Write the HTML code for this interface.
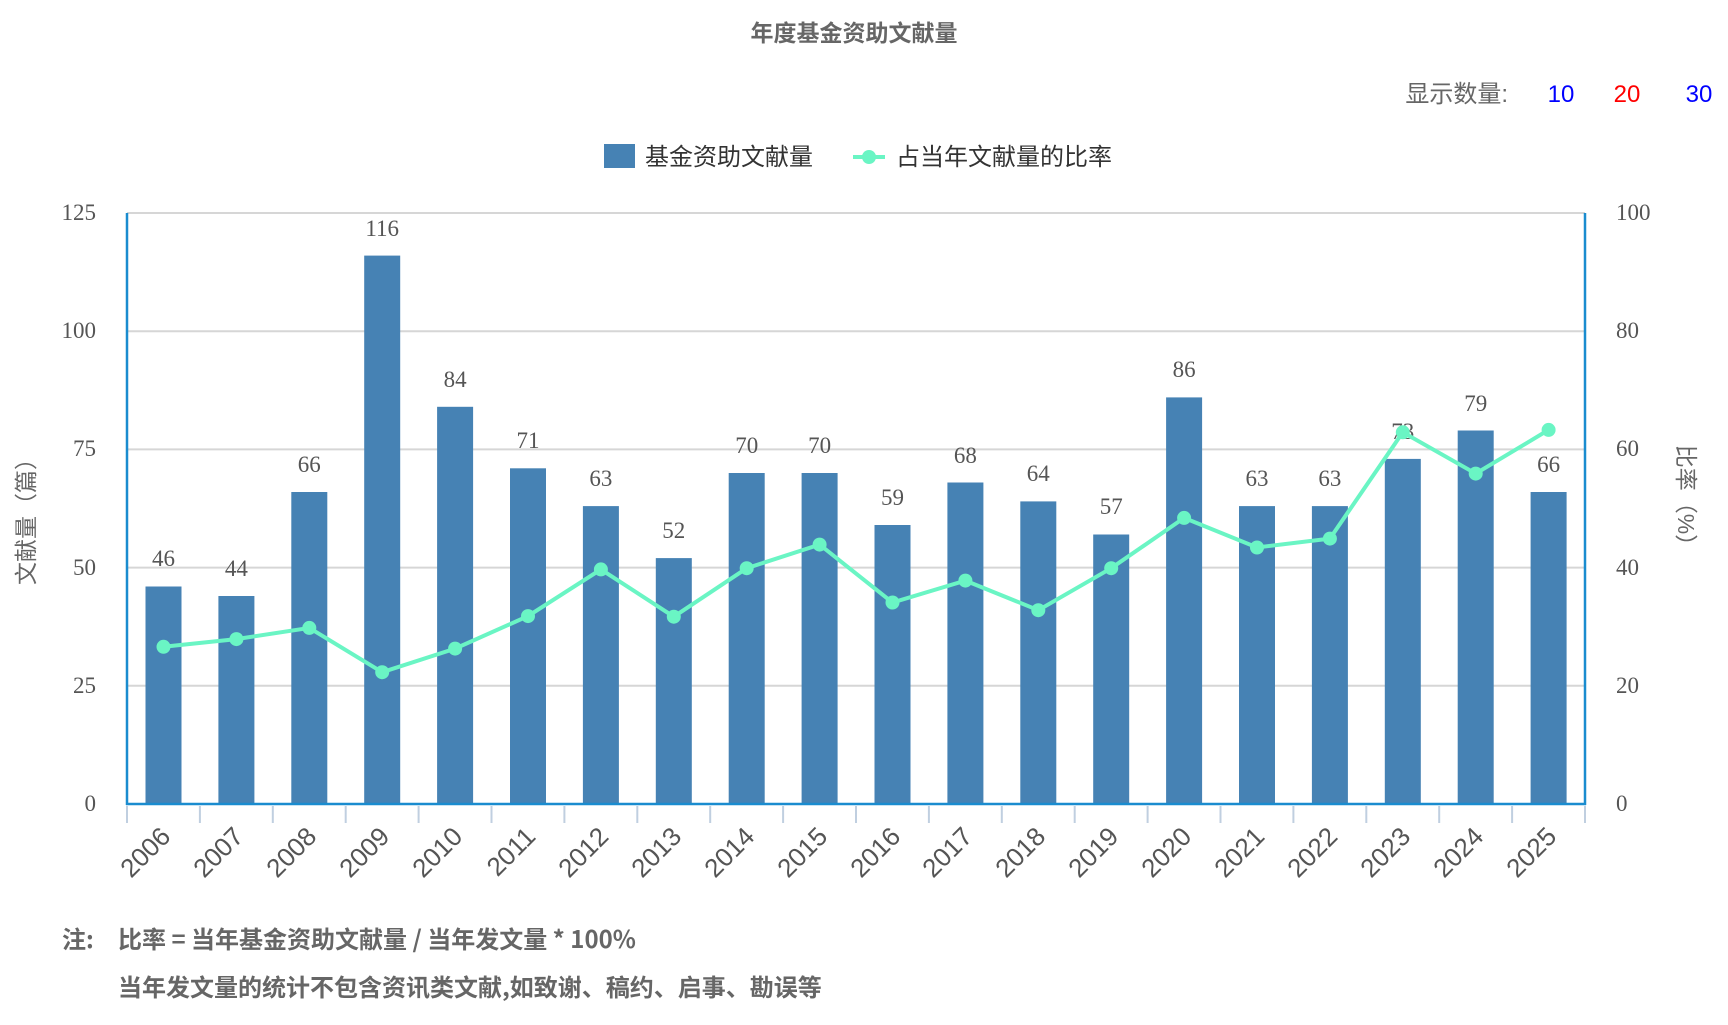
<!DOCTYPE html>
<html><head><meta charset="utf-8"><style>
body{margin:0;background:#fff;width:1728px;height:1020px;overflow:hidden}
text{font-family:"Liberation Sans","Noto Sans CJK SC",sans-serif}
.s{font-family:"Liberation Serif","Noto Sans CJK SC",serif;fill:#555;font-size:23px}
.c{font-family:"Noto Sans CJK SC",sans-serif}
</style></head><body>
<svg width="1728" height="1020" xmlns="http://www.w3.org/2000/svg">
<text class="c" x="854" y="41" text-anchor="middle" font-size="23" font-weight="bold" fill="#666">年度基金资助文献量</text>
<text x="1508" y="102" text-anchor="end" font-size="24" fill="#666">显示数量:</text>
<text x="1561" y="102" text-anchor="middle" font-size="24" fill="#00f">10</text>
<text x="1627" y="102" text-anchor="middle" font-size="24" fill="#f00">20</text>
<text x="1699" y="102" text-anchor="middle" font-size="24" fill="#00f">30</text>
<rect x="604" y="144" width="31" height="24" fill="#4682b4"/>
<text x="645" y="165" font-size="24" fill="#333">基金资助文献量</text>
<line x1="853" y1="157" x2="885" y2="157" stroke="#6af5c4" stroke-width="4"/>
<circle cx="869" cy="157" r="7" fill="#6af5c4"/>
<text x="896" y="165" font-size="24" fill="#333">占当年文献量的比率</text>
<g stroke="#d6d6d6" stroke-width="2">
<line x1="127" y1="213" x2="1585" y2="213"/><line x1="127" y1="331.2" x2="1585" y2="331.2"/><line x1="127" y1="449.4" x2="1585" y2="449.4"/><line x1="127" y1="567.6" x2="1585" y2="567.6"/><line x1="127" y1="685.8" x2="1585" y2="685.8"/>
</g>
<g text-anchor="end">
<text class="s" x="96" y="220">125</text><text class="s" x="96" y="338">100</text><text class="s" x="96" y="456">75</text><text class="s" x="96" y="575">50</text><text class="s" x="96" y="693">25</text><text class="s" x="96" y="811">0</text>
</g>
<text class="s" x="1616" y="220">100</text><text class="s" x="1616" y="338">80</text><text class="s" x="1616" y="456">60</text><text class="s" x="1616" y="575">40</text><text class="s" x="1616" y="693">20</text><text class="s" x="1616" y="811">0</text>
<text transform="translate(34,516) rotate(-90)" text-anchor="middle" font-size="23" fill="#666">文献量（篇）</text>
<text transform="translate(1678,501) rotate(90)" text-anchor="middle" font-size="23" fill="#666">比率（%）</text>
<g fill="#4682b4">
<rect x="145.5" y="586.5" width="36" height="217.5"/><rect x="218.4" y="596" width="36" height="208"/><rect x="291.3" y="492" width="36" height="312"/><rect x="364.2" y="255.6" width="36" height="548.4"/><rect x="437.1" y="406.8" width="36" height="397.2"/><rect x="510" y="468.3" width="36" height="335.7"/><rect x="582.9" y="506.1" width="36" height="297.9"/><rect x="655.8" y="558.1" width="36" height="245.9"/><rect x="728.7" y="473" width="36" height="331"/><rect x="801.6" y="473" width="36" height="331"/><rect x="874.5" y="525" width="36" height="279"/><rect x="947.4" y="482.5" width="36" height="321.5"/><rect x="1020.3" y="501.4" width="36" height="302.6"/><rect x="1093.2" y="534.5" width="36" height="269.5"/><rect x="1166.1" y="397.4" width="36" height="406.6"/><rect x="1239" y="506.1" width="36" height="297.9"/><rect x="1311.9" y="506.1" width="36" height="297.9"/><rect x="1384.8" y="458.9" width="36" height="345.1"/><rect x="1457.7" y="430.5" width="36" height="373.5"/><rect x="1530.6" y="492" width="36" height="312"/>
</g>
<g text-anchor="middle">
<text class="s" x="163.5" y="566">46</text><text class="s" x="236.4" y="576">44</text><text class="s" x="309.3" y="472">66</text><text class="s" x="382.2" y="236">116</text><text class="s" x="455.1" y="387">84</text><text class="s" x="528" y="448">71</text><text class="s" x="600.9" y="486">63</text><text class="s" x="673.8" y="538">52</text><text class="s" x="746.7" y="453">70</text><text class="s" x="819.6" y="453">70</text><text class="s" x="892.5" y="505">59</text><text class="s" x="965.4" y="463">68</text><text class="s" x="1038.3" y="481">64</text><text class="s" x="1111.2" y="514">57</text><text class="s" x="1184.1" y="377">86</text><text class="s" x="1257" y="486">63</text><text class="s" x="1329.9" y="486">63</text><text class="s" x="1402.8" y="439">73</text><text class="s" x="1475.7" y="411">79</text><text class="s" x="1548.6" y="472">66</text>
</g>
<polyline fill="none" stroke="#6af5c4" stroke-width="4" points="163.5,646.8 236.4,639.1 309.3,627.9 382.2,672.2 455.1,648.6 528,616.1 600.9,569.4 673.8,616.7 746.7,568.2 819.6,544.6 892.5,602.5 965.4,580.6 1038.3,610.2 1111.2,568.2 1184.1,517.9 1257,547.5 1329.9,538.6 1402.8,432.3 1475.7,473.6 1548.6,429.9"/>
<g fill="#6af5c4">
<circle cx="163.5" cy="646.8" r="7"/><circle cx="236.4" cy="639.1" r="7"/><circle cx="309.3" cy="627.9" r="7"/><circle cx="382.2" cy="672.2" r="7"/><circle cx="455.1" cy="648.6" r="7"/><circle cx="528" cy="616.1" r="7"/><circle cx="600.9" cy="569.4" r="7"/><circle cx="673.8" cy="616.7" r="7"/><circle cx="746.7" cy="568.2" r="7"/><circle cx="819.6" cy="544.6" r="7"/><circle cx="892.5" cy="602.5" r="7"/><circle cx="965.4" cy="580.6" r="7"/><circle cx="1038.3" cy="610.2" r="7"/><circle cx="1111.2" cy="568.2" r="7"/><circle cx="1184.1" cy="517.9" r="7"/><circle cx="1257" cy="547.5" r="7"/><circle cx="1329.9" cy="538.6" r="7"/><circle cx="1402.8" cy="432.3" r="7"/><circle cx="1475.7" cy="473.6" r="7"/><circle cx="1548.6" cy="429.9" r="7"/>
</g>
<g stroke="#1a8ccf" stroke-width="2.5"><line x1="127" y1="213" x2="127" y2="805"/><line x1="1585" y1="213" x2="1585" y2="805"/><line x1="126" y1="804" x2="1586" y2="804"/></g>
<g stroke="#c0cfe0" stroke-width="2">
<line x1="127" y1="806" x2="127" y2="823"/><line x1="199.9" y1="806" x2="199.9" y2="823"/><line x1="272.8" y1="806" x2="272.8" y2="823"/><line x1="345.7" y1="806" x2="345.7" y2="823"/><line x1="418.6" y1="806" x2="418.6" y2="823"/><line x1="491.5" y1="806" x2="491.5" y2="823"/><line x1="564.4" y1="806" x2="564.4" y2="823"/><line x1="637.3" y1="806" x2="637.3" y2="823"/><line x1="710.2" y1="806" x2="710.2" y2="823"/><line x1="783.1" y1="806" x2="783.1" y2="823"/><line x1="856" y1="806" x2="856" y2="823"/><line x1="928.9" y1="806" x2="928.9" y2="823"/><line x1="1001.8" y1="806" x2="1001.8" y2="823"/><line x1="1074.7" y1="806" x2="1074.7" y2="823"/><line x1="1147.6" y1="806" x2="1147.6" y2="823"/><line x1="1220.5" y1="806" x2="1220.5" y2="823"/><line x1="1293.4" y1="806" x2="1293.4" y2="823"/><line x1="1366.3" y1="806" x2="1366.3" y2="823"/><line x1="1439.2" y1="806" x2="1439.2" y2="823"/><line x1="1512.1" y1="806" x2="1512.1" y2="823"/><line x1="1585" y1="806" x2="1585" y2="823"/>
</g>
<g font-size="26" fill="#555" text-anchor="end">
<text transform="translate(172,838) rotate(-45)">2006</text><text transform="translate(245,838) rotate(-45)">2007</text><text transform="translate(318,838) rotate(-45)">2008</text><text transform="translate(391,838) rotate(-45)">2009</text><text transform="translate(464,838) rotate(-45)">2010</text><text transform="translate(537,838) rotate(-45)">2011</text><text transform="translate(610,838) rotate(-45)">2012</text><text transform="translate(683,838) rotate(-45)">2013</text><text transform="translate(756,838) rotate(-45)">2014</text><text transform="translate(829,838) rotate(-45)">2015</text><text transform="translate(902,838) rotate(-45)">2016</text><text transform="translate(974,838) rotate(-45)">2017</text><text transform="translate(1047,838) rotate(-45)">2018</text><text transform="translate(1120,838) rotate(-45)">2019</text><text transform="translate(1193,838) rotate(-45)">2020</text><text transform="translate(1266,838) rotate(-45)">2021</text><text transform="translate(1339,838) rotate(-45)">2022</text><text transform="translate(1412,838) rotate(-45)">2023</text><text transform="translate(1485,838) rotate(-45)">2024</text><text transform="translate(1558,838) rotate(-45)">2025</text>
</g>
<text class="c" x="62" y="948" font-size="24" font-weight="bold" fill="#666">注:</text>
<text class="c" x="118" y="948" font-size="24" font-weight="bold" fill="#666">比率 = 当年基金资助文献量 / 当年发文量 * 100%</text>
<text class="c" x="118" y="996" font-size="24" font-weight="bold" fill="#666">当年发文量的统计不包含资讯类文献,如致谢、稿约、启事、勘误等</text>
</svg>
</body></html>
